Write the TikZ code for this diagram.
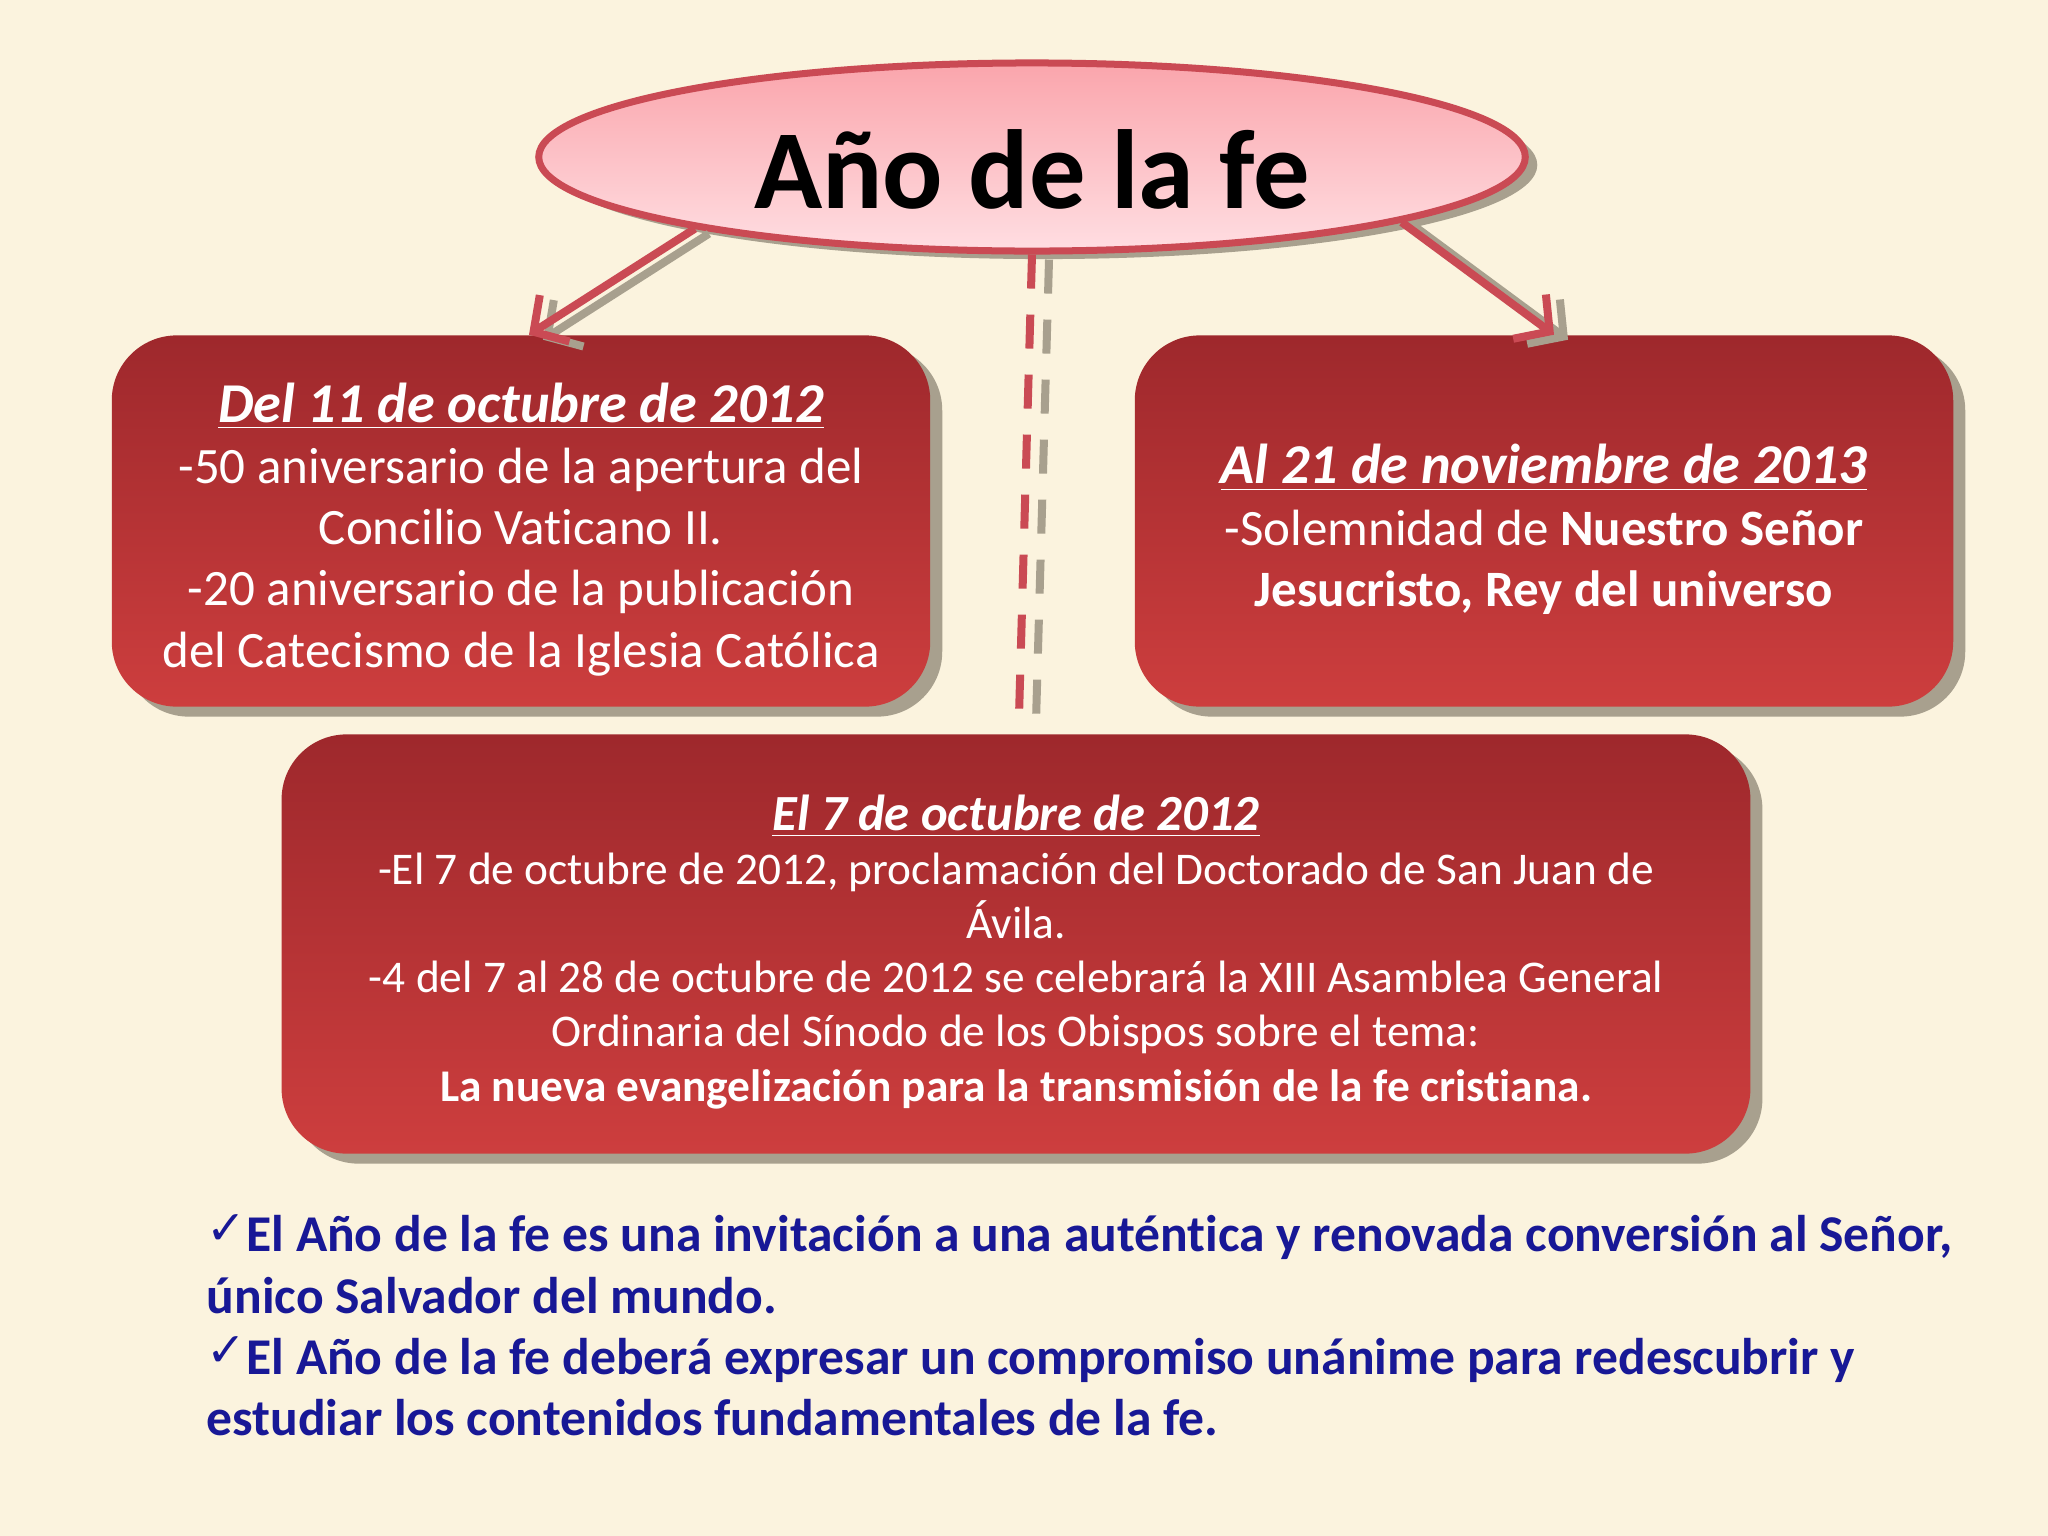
\documentclass[tikz,border=0pt]{standalone}
\usepackage{fontspec}
\setmainfont[Ligatures=CommonOff]{Carlito}
\newfontfamily\checkfont{DejaVu Sans}
\usetikzlibrary{shapes.geometric,shadows,arrows.meta}
\definecolor{fondo}{RGB}{251,243,222}
\definecolor{rojoA}{RGB}{158,40,44}
\definecolor{rojoB}{RGB}{205,62,62}
\definecolor{borde}{RGB}{202,74,84}
\definecolor{rosaA}{RGB}{250,165,172}
\definecolor{rosaB}{RGB}{255,222,226}
\definecolor{sombra}{RGB}{168,160,142}
\definecolor{azul}{RGB}{24,24,150}
\newcommand{\marca}{\raisebox{0.15em}{\checkfont\fontsize{13.5}{13.5}\selectfont ✓}}
\newcommand{\titulo}{\fontsize{16}{18.2}\selectfont\bfseries\itshape}

\begin{document}
\begin{tikzpicture}[x=0.01cm,y=-0.01cm,
  elipse/.style={ellipse,draw=borde,line width=0.07cm,top color=rosaA,bottom color=rosaB,minimum width=9.86cm,minimum height=1.88cm,font=\fontsize{32}{38}\selectfont\bfseries,drop shadow={shadow xshift=0.12cm,shadow yshift=-0.08cm,fill=sombra,opacity=1}},
  caja/.style={rectangle,rounded corners=0.65cm,top color=rojoA,bottom color=rojoB,text=white,align=center,minimum width=8.18cm,minimum height=3.71cm,font=\fontsize{14.5}{17.4}\selectfont,drop shadow={shadow xshift=0.12cm,shadow yshift=-0.1cm,fill=sombra,opacity=1}},
  enlace/.style={draw=borde,line width=0.08cm,-{Straight Barb[length=0.25cm,width=0.55cm]},preaction={draw=sombra,line width=0.08cm,-{Straight Barb[length=0.25cm,width=0.55cm]},transform canvas={shift={(0.14cm,-0.05cm)}}}},
  punteado/.style={draw=borde,line width=0.08cm,dash pattern=on 0.34cm off 0.26cm,preaction={draw=sombra,line width=0.08cm,dash pattern=on 0.34cm off 0.26cm,transform canvas={shift={(0.17cm,-0.05cm)}}}},
  notas/.style={text=azul,align=left,anchor=west,inner sep=0pt,font=\fontsize{14.67}{17.4}\selectfont\bfseries}]
  \path[use as bounding box,fill=fondo] (0,0) rectangle (2048,1536);
  % title
  \node[elipse] (title) at (1032,157) {\raisebox{-3.4pt}[\height][\depth]{Año de la fe}};
  % the three boxes
  \node[caja] (inicio) at (521,521) {\rule{0pt}{16pt}{\titulo\underline{Del 11 de octubre de 2012}}\\
    -50 aniversario de la apertura del\\ Concilio Vaticano II.\\
    -20 aniversario de la publicación\\ del Catecismo de la Iglesia Católica};
  \node[caja] (clausura) at (1544,521) {\rule{0pt}{16pt}{\titulo\underline{Al 21 de noviembre de 2013}}\\
    -Solemnidad de \textbf{Nuestro Señor}\\ \textbf{Jesucristo, Rey del universo}};
  \node[caja,minimum width=14.68cm,minimum height=4.19cm,font=\fontsize{12.9}{15.4}\selectfont] (octubre) at (1016,944) {\rule{0pt}{14.5pt}{\fontsize{14.4}{17}\selectfont\bfseries\itshape\underline{El 7 de octubre de 2012}}\\
    -El 7 de octubre de 2012, proclamación del Doctorado de San Juan de\\ Ávila.\\
    -4 del 7 al 28 de octubre de 2012 se celebrará la XIII Asamblea General\\
    Ordinaria del Sínodo de los Obispos sobre el tema:\\
    \textbf{La nueva evangelización para la transmisión de la fe cristiana.}};
  % connectors
  \coordinate (fin) at (1019,716);
  \draw[enlace] (title.192) -- ([xshift=0.08cm]inicio.north);
  \draw[enlace] (title.350) -- ([xshift=0.1cm]clausura.north);
  \draw[punteado] (title.south) -- (fin);
  % closing notes
  \node[notas] (notas) at (206,1325) {\marca El Año de la fe es una invitación a una auténtica y renovada conversión al Señor,\\
    único Salvador del mundo.\\
    \marca El Año de la fe deberá expresar un compromiso unánime para redescubrir y\\
    estudiar los contenidos fundamentales de la fe.};
\end{tikzpicture}
\end{document}
